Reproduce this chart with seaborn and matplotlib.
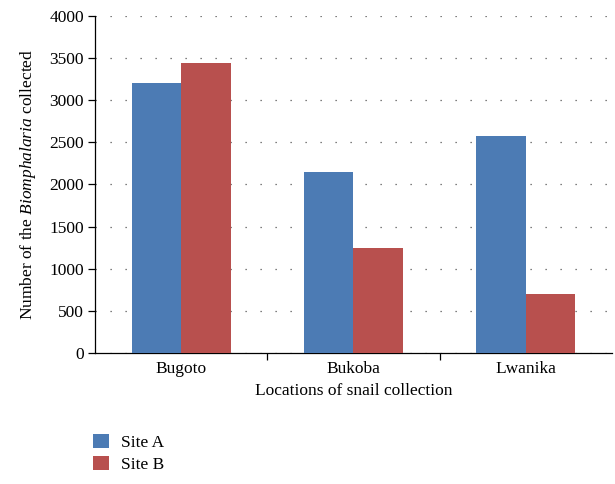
import numpy as np
import pandas as pd
import matplotlib
matplotlib.use('Agg')
import matplotlib.pyplot as plt
from matplotlib.patches import Patch
import seaborn as sns

# ─── data ────────────────────────────────────────────────────────────────────
locations = ['Bugoto', 'Bukoba', 'Lwanika']
site_a = [3200, 2145, 2575]
site_b = [3440, 1245, 700]
sites = ['Site A', 'Site B']
colors = ['#4C7BB4', '#B8504E']

df = pd.DataFrame({
    'location': locations * 2,
    'site': [sites[0]] * 3 + [sites[1]] * 3,
    'count': site_a + site_b,
})

# ─── plot ────────────────────────────────────────────────────────────────────
sns.set_style('white')
plt.rcParams['font.family'] = ['Liberation Serif', 'DejaVu Serif']
plt.rcParams['text.color'] = 'black'
plt.rcParams['axes.labelcolor'] = 'black'
plt.rcParams['xtick.color'] = 'black'
plt.rcParams['ytick.color'] = 'black'
plt.rcParams['mathtext.fontset'] = 'custom'
plt.rcParams['mathtext.it'] = 'Liberation Serif:italic'
plt.rcParams['mathtext.rm'] = 'Liberation Serif'

FS = 12.5

fig = plt.figure(figsize=(6.15, 4.84), dpi=100)
ax = fig.add_axes([0.1545, 0.2707, 0.8405, 0.6963])

sns.barplot(data=df, x='location', y='count', hue='site', palette=colors,
            width=0.575, saturation=1, legend=False, ax=ax, zorder=3,
            linewidth=0, edgecolor='none')

ax.set_xlim(-0.5, 2.5)
ax.set_ylim(0, 4000)
ax.set_yticks(np.arange(0, 4001, 500))
ax.yaxis.grid(True, linestyle=(0, (1, 11)), color='#555555', linewidth=0.9, zorder=0)
ax.set_axisbelow(True)

for s in ['top', 'right']:
    ax.spines[s].set_visible(False)
for s in ['left', 'bottom']:
    ax.spines[s].set_color('black')
    ax.spines[s].set_linewidth(0.9)

ax.tick_params(axis='y', which='major', left=True, direction='out', length=5,
               width=0.9, color='black', labelsize=FS, pad=3)
ax.tick_params(axis='x', which='major', bottom=True, length=0, labelsize=FS, pad=6)
ax.set_xticks([0.5, 1.5], minor=True)
ax.tick_params(axis='x', which='minor', bottom=True, direction='out', length=5,
               width=0.9, color='black')

ax.set_xlabel('Locations of snail collection', fontsize=FS, labelpad=4)
ax.set_ylabel(r'Number of the $Biomphalaria$ collected', fontsize=FS, labelpad=8)

handles = [Patch(facecolor=c, edgecolor='none') for c in colors]
fig.legend(handles, sites, loc='upper left', bbox_to_anchor=(0.152, 0.103),
           frameon=False, fontsize=FS, handlelength=0.88, handleheight=0.88,
           handletextpad=0.7, labelspacing=0.25, borderaxespad=0,
           borderpad=0)

fig.savefig('out.png', dpi=100)
